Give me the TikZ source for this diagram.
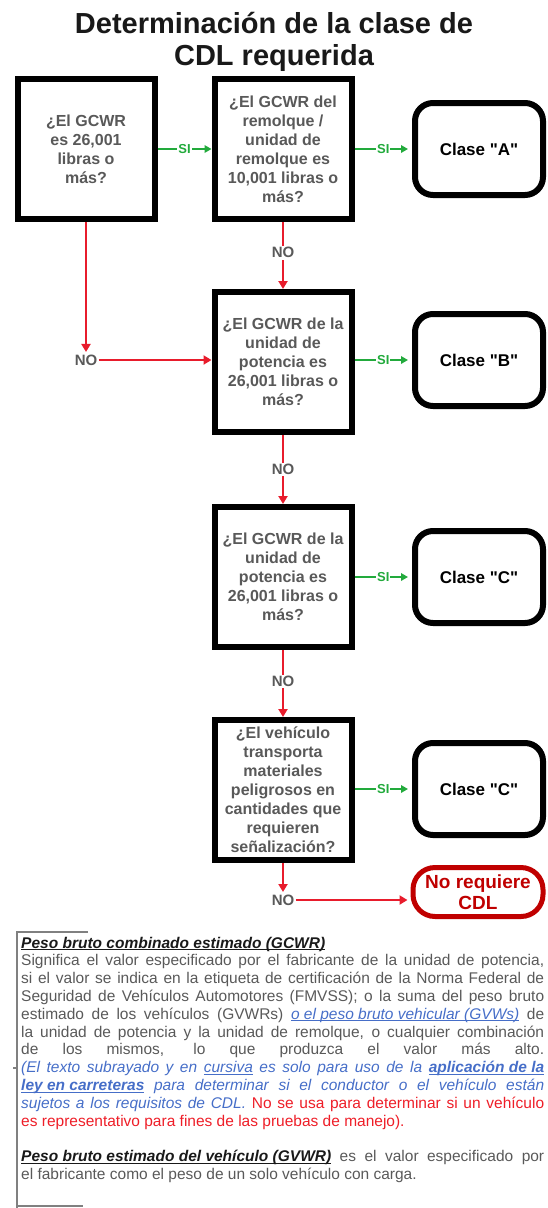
\documentclass[tikz,border=0pt]{standalone}
\usepackage{fontspec}
\setmainfont{Liberation Sans}
\usetikzlibrary{arrows.meta,calc}
\definecolor{txtgray}{RGB}{89,89,89}
\definecolor{titleblack}{RGB}{25,25,25}
\definecolor{arrred}{RGB}{232,28,44}
\definecolor{arrgreen}{RGB}{34,170,60}
\definecolor{darkred}{RGB}{192,0,0}
\definecolor{noteblue}{RGB}{70,110,200}
\definecolor{notered}{RGB}{238,30,40}
\definecolor{bordergray}{RGB}{128,128,128}
\newcommand{\jline}[1]{\makebox[523pt][s]{#1}}
\newsavebox{\myulbox}
\newcommand{\ul}[1]{\sbox{\myulbox}{#1}\rlap{\rule[-2pt]{\wd\myulbox}{0.9pt}}\usebox{\myulbox}}
\newcommand{\dq}{\textquotedbl}
\begin{document}
\begin{tikzpicture}[x=1pt,y=-1pt,
  qbox/.style={draw=black, line width=6pt, fill=white, minimum width=137pt, minimum height=140pt,
    inner sep=2pt, align=center, text=txtgray, font=\fontsize{16}{19}\selectfont\bfseries},
  cbox/.style={draw=black, line width=6pt, rounded corners=18pt, fill=white, minimum width=128pt,
    minimum height=92pt, text=black, font=\fontsize{17}{20}\selectfont\bfseries},
  endbox/.style={draw=darkred, line width=5pt, rounded corners=22pt, fill=white, minimum width=130pt,
    minimum height=49pt, inner sep=1pt, text=darkred, align=center, font=\fontsize{19}{21}\selectfont\bfseries},
  yesarrow/.style={draw=arrgreen, line width=2.5pt, -{Triangle[length=7pt,width=7.5pt]}},
  noarrow/.style={draw=arrred, line width=2.8pt, -{Triangle[length=8pt,width=9pt]}},
  silabel/.style={fill=white, inner sep=1pt, text=arrgreen, font=\fontsize{13}{13}\selectfont\bfseries},
  nolabel/.style={fill=white, inner sep=1.5pt, text=txtgray, font=\fontsize{15}{15}\selectfont\bfseries},
  titlestyle/.style={anchor=base, inner sep=0pt, text=titleblack, font=\fontsize{29}{33}\selectfont\bfseries},
  note/.style={anchor=base west, inner sep=0pt, font=\fontsize{15.5}{18}\selectfont, text=txtgray},
  border/.style={draw=bordergray, line width=1.2pt}
]
\useasboundingbox (0,0) rectangle (548,1208);

% title
\node[titlestyle] (title1) at (274,33) {Determinación de la clase de};
\node[titlestyle] (title2) at (274,65) {CDL requerida};

% question boxes
\node[qbox] (q1) at (86,149) {¿El GCWR\\es 26,001\\libras o\\más?};
\node[qbox] (q2) at (283,149) {¿El GCWR del\\remolque /\\unidad de\\remolque es\\10,001 libras o\\más?};
\node[qbox] (q3) at (283,362) {¿El GCWR de la\\unidad de\\potencia es\\26,001 libras o\\más?};
\node[qbox] (q4) at (283,577) {¿El GCWR de la\\unidad de\\potencia es\\26,001 libras o\\más?};
\node[qbox] (q5) at (283,790) {¿El vehículo\\transporta\\materiales\\peligrosos en\\cantidades que\\requieren\\señalización?};

% result boxes
\node[cbox] (ca) at (479,149) {Clase \dq A\dq};
\node[cbox] (cb) at (479,360) {Clase \dq B\dq};
\node[cbox] (cc) at (479,577) {Clase \dq C\dq};
\node[cbox] (cc2) at (479,789) {Clase \dq C\dq};
\node[endbox] (ncdl) at (478,892) {No requiere\\CDL};

% SI connectors
\draw[yesarrow] (q1.east) -- node[silabel] (si1) {SI} (q2.west);
\draw[yesarrow, shorten >=4pt] (q2.east) -- node[silabel] (si2) {SI} (ca.west);
\draw[yesarrow, shorten >=4pt] (q3.east |- cb.west) -- node[silabel] (si3) {SI} (cb.west);
\draw[yesarrow, shorten >=4pt] (q4.east) -- node[silabel] (si4) {SI} (cc.west);
\draw[yesarrow, shorten >=4pt] (q5.east |- cc2.west) -- node[silabel] (si5) {SI} (cc2.west);

% NO connectors
\node[nolabel] (no1) at (86,360) {NO};
\draw[noarrow, shorten >=1pt] (q1.south) -- (no1.north);
\draw[noarrow] (no1.east) -- (q3.west |- no1.east);
\draw[noarrow] (q2.south) -- node[nolabel, pos=0.46] (no2) {NO} (q3.north);
\draw[noarrow] (q3.south) -- node[nolabel, pos=0.5] (no3) {NO} (q4.north);
\draw[noarrow] (q4.south) -- node[nolabel, pos=0.47] (no4) {NO} (q5.north);
\node[nolabel] (no5) at (283,900) {NO};
\draw[noarrow, shorten >=1pt] (q5.south) -- (no5.north);
\draw[noarrow, shorten >=3pt] (no5.east) -- (ncdl.west |- no5.east);

% definitions block
\draw[border] (88,932) -- (17,932) -- (17,1208);
\draw[border] (13,1068) -- (17,1068);
\draw[border] (17,1206) -- (83,1206);

\node[note, text=titleblack] (n1) at (21,948) {\bfseries\itshape\ul{Peso bruto combinado estimado (GCWR)}};
\node[note] (n2) at (21,965.8) {\jline{Significa el valor especificado por el fabricante de la unidad de potencia,}};
\node[note] (n3) at (21,983.6) {\jline{si el valor se indica en la etiqueta de certificación de la Norma Federal de}};
\node[note] (n4) at (21,1001.4) {\jline{Seguridad de Vehículos Automotores (FMVSS); o la suma del peso bruto}};
\node[note] (n5) at (21,1019.2) {\jline{estimado de los vehículos (GVWRs) {\color{noteblue}\itshape\ul{o el peso bruto vehicular (GVWs)}} de}};
\node[note] (n6) at (21,1037) {\jline{la unidad de potencia y la unidad de remolque, o cualquier combinación}};
\node[note] (n7) at (21,1054.8) {\jline{de los mismos, lo que produzca el valor más alto.}};
\node[note, text=noteblue] (n8) at (21,1072.6) {\itshape\jline{(El texto subrayado y en \ul{cursiva} es solo para uso de la \textbf{\ul{aplicación de la}}}};
\node[note, text=noteblue] (n9) at (21,1090.4) {\itshape\jline{\textbf{\ul{ley en carreteras}} para determinar si el conductor o el vehículo están}};
\node[note, text=noteblue] (n10) at (21,1108.2) {\jline{\itshape sujetos a los requisitos de CDL. {\upshape\color{notered}No se usa para determinar si un vehículo}}};
\node[note, text=notered] (n11) at (21,1126) {es representativo para fines de las pruebas de manejo).};
\node[note] (n12) at (21,1161.6) {\jline{{\color{titleblack}\bfseries\itshape\ul{Peso bruto estimado del vehículo (GVWR)}} es el valor especificado por}};
\node[note] (n13) at (21,1179.4) {el fabricante como el peso de un solo vehículo con carga.};
\end{tikzpicture}
\end{document}
